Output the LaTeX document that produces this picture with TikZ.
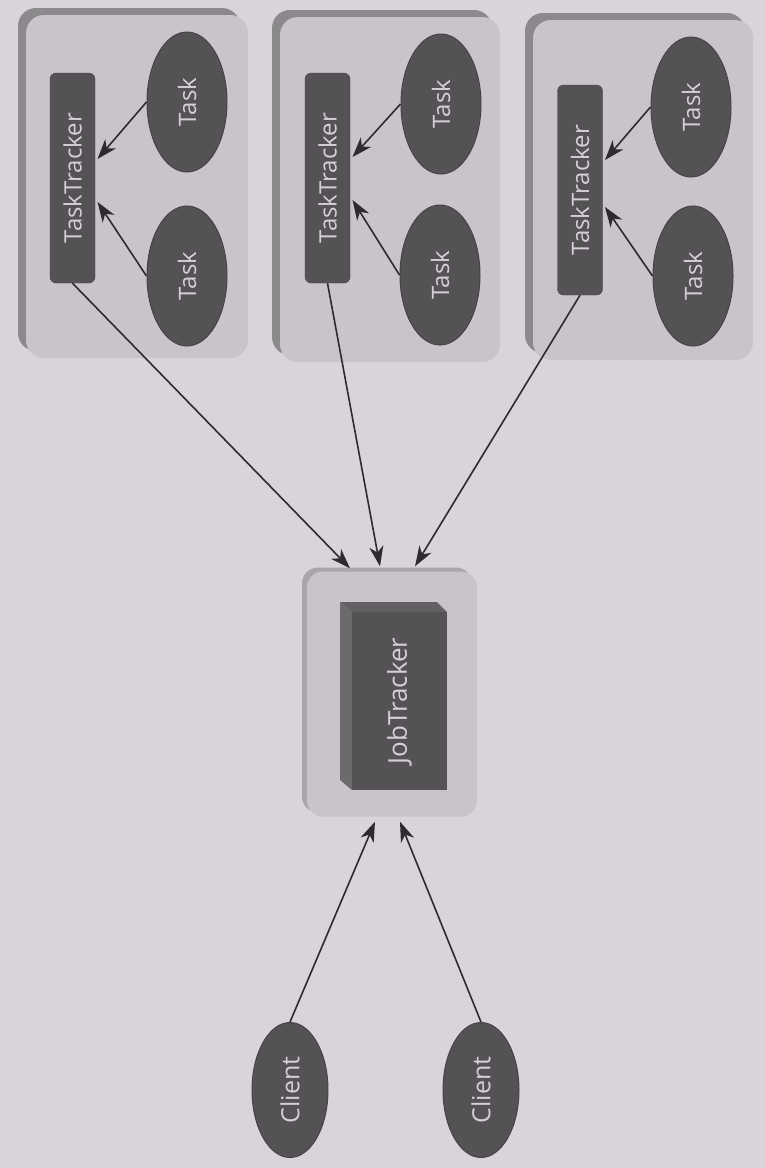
\documentclass[tikz,border=0pt]{standalone}
\usepackage{fontspec}
\setmainfont{Open Sans}
\usetikzlibrary{shapes.geometric,shadows,calc,arrows.meta}
\definecolor{bg}{HTML}{D9D4DA}
\definecolor{grpfill}{HTML}{C8C4C9}
\definecolor{grpshadow}{HTML}{8C898D}
\definecolor{jtshadow}{HTML}{A9A5AA}
\definecolor{dark}{HTML}{555256}
\definecolor{darkedge}{HTML}{464347}
\definecolor{topface}{HTML}{636064}
\definecolor{leftface}{HTML}{6D6A6E}
\definecolor{txt}{HTML}{D4D0D5}
\definecolor{wire}{HTML}{2E2B2F}
\begin{document}
\begin{tikzpicture}[x=1pt,y=-1pt,
  grp/.style={rectangle, rounded corners=18pt, fill=grpfill, draw=none, inner sep=0pt,
    drop shadow={shadow xshift=-8pt, shadow yshift=7pt, fill=grpshadow, opacity=1}},
  jtbox/.style={rectangle, rounded corners=16pt, fill=grpfill, draw=none, inner sep=0pt,
    minimum width=170pt, minimum height=245pt,
    drop shadow={shadow xshift=-5pt, shadow yshift=4pt, fill=jtshadow, opacity=1}},
  tracker/.style={rectangle, rounded corners=6pt, fill=dark, draw=darkedge, text=txt,
    minimum width=210pt, minimum height=45pt, inner sep=0pt, rotate=90,
    font=\fontsize{24}{28}\selectfont},
  task/.style={ellipse, fill=dark, draw=darkedge, line width=1pt, text=txt,
    minimum width=140pt, minimum height=80pt, inner sep=0pt, rotate=90,
    font=\fontsize{24}{28}\selectfont},
  client/.style={task, minimum width=135pt, minimum height=76pt,
    font=\fontsize{25}{29}\selectfont},
  jtblock/.style={rectangle, fill=dark, draw=none, text=txt,
    minimum width=178pt, minimum height=95pt, inner sep=0pt, rotate=90,
    font=\fontsize{26}{30}\selectfont},
  arr/.style={draw=wire, line width=1.6pt, -{Stealth[length=20pt,width=14pt,inset=6pt]}}
]
\useasboundingbox (0,0) rectangle (765,1168);
\fill[bg] (0,0) rectangle (765,1168);

% groups
\node[grp, minimum width=222pt, minimum height=343pt] (g1) at (137,186.5) {};
\node[grp, minimum width=220pt, minimum height=345pt] (g2) at (390,189.5) {};
\node[grp, minimum width=220pt, minimum height=340pt] (g3) at (643,190) {};

% trackers
\node[tracker] (tt1) at (72.5,178) {TaskTracker};
\node[tracker] (tt2) at (327.5,178) {TaskTracker};
\node[tracker] (tt3) at (580,190) {TaskTracker};

% tasks
\node[task] (t1a) at (187,102) {Task};
\node[task] (t1b) at (187,276) {Task};
\node[task] (t2a) at (441,104) {Task};
\node[task] (t2b) at (440,275) {Task};
\node[task] (t3a) at (691,107) {Task};
\node[task] (t3b) at (693,276) {Task};

% job tracker
\node[jtbox] (jt) at (392,694) {};
\fill[topface] (340,602) -- (437,602) -- (447,612) -- (352,612) -- cycle;
\fill[leftface] (340,602) -- (352,612) -- (352,790) -- (340,780) -- cycle;
\node[jtblock] (jtb) at (399.5,701) {JobTracker};

% clients
\node[client] (c1) at (290,1090) {Client};
\node[client] (c2) at (481,1090) {Client};

% arrows inside groups
\draw[arr] (t1a.north) -- ($(tt1.center)+(25,-19)$);
\draw[arr] (t1b.north) -- ($(tt1.center)+(25,24)$);
\draw[arr] (t2a.north) -- ($(tt2.center)+(25,-21)$);
\draw[arr] (t2b.north) -- ($(tt2.center)+(25,22)$);
\draw[arr] (t3a.north) -- ($(tt3.center)+(25,-30)$);
\draw[arr] (t3b.north) -- ($(tt3.center)+(25,17)$);

% trackers to job tracker
\draw[arr] (tt1.west) -- ($(jt.north)+(-42,-3)$);
\draw[arr] (tt2.west) -- ($(jt.north)+(-12,-5)$);
\draw[arr] (tt3.west) -- ($(jt.north)+(23,-5)$);

% clients to job tracker
\draw[arr] (c1.east) -- ($(jt.south)+(-17,5)$);
\draw[arr] (c2.east) -- ($(jt.south)+(8,5)$);
\end{tikzpicture}
\end{document}
